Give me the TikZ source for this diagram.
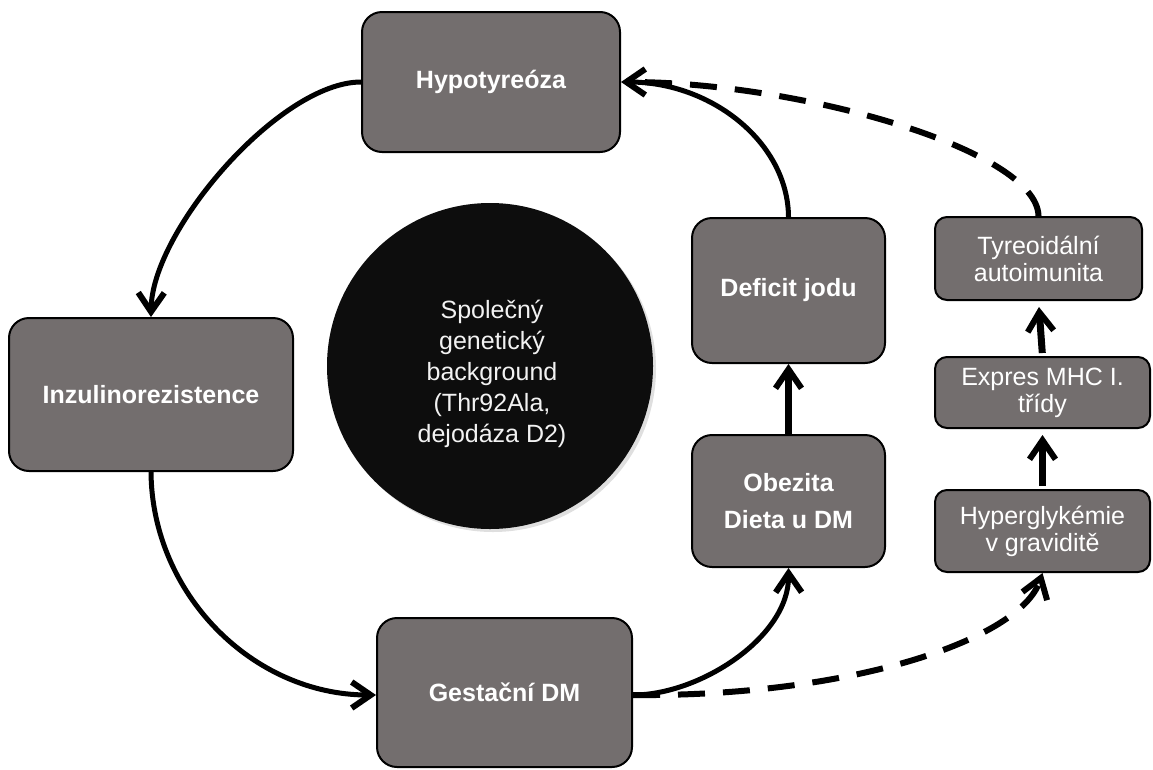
\documentclass[tikz,border=0pt]{standalone}
\usepackage{fontspec}
\setmainfont{Liberation Sans}
\usetikzlibrary{arrows.meta,shadows}
\definecolor{boxgray}{RGB}{115,110,110}
\begin{document}
\begin{tikzpicture}[x=1pt,y=-1pt,
  box/.style={draw=black, line width=2pt, fill=boxgray, text=white, align=center, inner sep=0pt},
  bbox/.style={box, rounded corners=20pt, font=\bfseries\fontsize{25}{37}\selectfont},
  rbox/.style={box, rounded corners=12pt, font=\fontsize{25}{27}\selectfont},
  tip/.style={-{Straight Barb[length=19pt,width=26pt,line width=6pt]}},
  arr/.style={line width=5pt, tip},
  varr/.style={line width=7pt, tip},
  darr/.style={line width=6pt, dash pattern=on 27pt off 18pt}
]
\useasboundingbox (0,0) rectangle (1153,769);

% circle
\node[circle, fill=black!95, minimum size=326pt, inner sep=0pt,
      drop shadow={shadow xshift=3pt, shadow yshift=-3pt, opacity=0.25}]
  (gen) at (490,366) {};
\node[text=white!95!black, align=center, font=\fontsize{25}{31}\selectfont]
  (gentext) at (492,374) {Společný\\genetický\\background\\(Thr92Ala,\\dejodáza D2)};

% main boxes
\node[bbox, minimum width=258pt, minimum height=140pt] (hyp) at (491,82) {Hypotyreóza};
\node[bbox, minimum width=284pt, minimum height=153pt] (inz) at (151,394.5) {Inzulinorezistence};
\node[bbox, minimum width=255pt, minimum height=149pt] (ges) at (504.5,692.5) {Gestační DM};
\node[bbox, minimum width=193pt, minimum height=145pt] (def) at (788.5,290.5) {Deficit jodu};
\node[bbox, minimum width=193pt, minimum height=132pt] (obe) at (788.5,501) {Obezita\\Dieta u DM};

% right column
\node[rbox, minimum width=207pt, minimum height=83pt] (tyr) at (1038.5,258.5) {Tyreoidální\\autoimunita};
\node[rbox, minimum width=215pt, minimum height=71pt] (mhc) at (1042.5,392.5) {Expres MHC I.\\třídy};
\node[rbox, minimum width=215pt, minimum height=82pt] (hyg) at (1042.5,531) {Hyperglykémie\\v graviditě};

% cycle connectors
\draw[arr] (hyp.west) .. controls (280,82) and (152,230) .. (inz.north);
\draw[arr] (inz.south) .. controls (152,594) and (253,695) .. (ges.west |- 0,695);
\coordinate (gesout) at (ges.east |- 0,695);
\draw[arr] (gesout) .. controls (700,695) and (789,637) .. (obe.south);
\draw[varr] (obe.north) -- (def.south);
\draw[arr] (def.north) .. controls (788,143) and (712,82) .. (hyp.east);

% dashed connectors
\draw[darr] (tyr.north) .. controls (1037,150) and (800,82) .. ([xshift=8pt]hyp.east);
\draw[darr, tip] (gesout) .. controls (850,697) and (1020,640) .. (hyg.south);

% right column arrows
\draw[varr, shorten >=6pt, shorten <=3pt] (hyg.north) -- (mhc.south);
\draw[varr, shorten >=6pt, shorten <=3pt] (mhc.north) -- (tyr.south);
\end{tikzpicture}
\end{document}
